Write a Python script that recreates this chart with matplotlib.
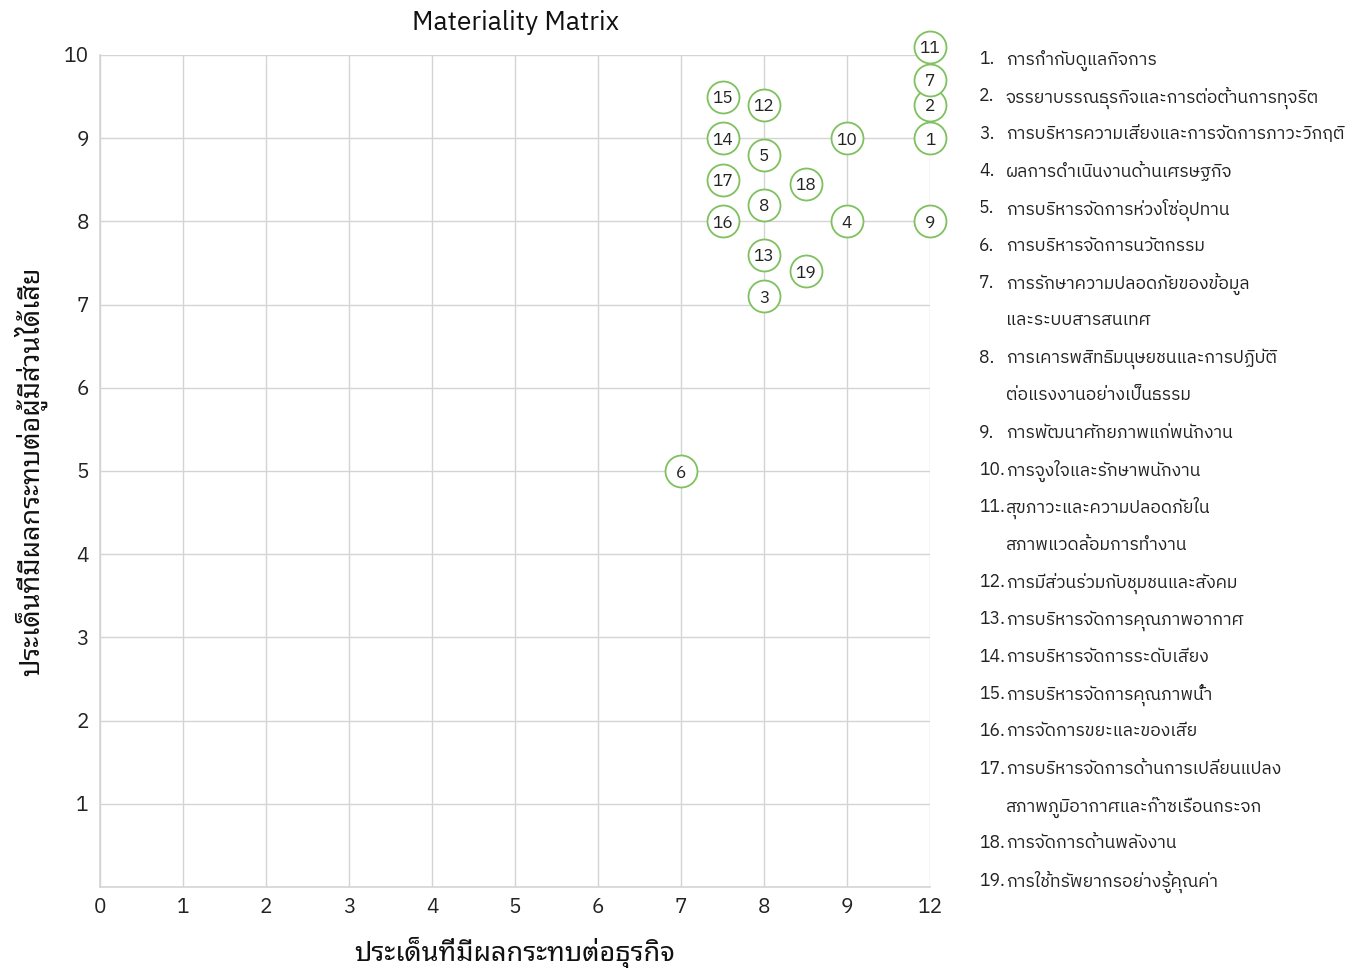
import matplotlib
matplotlib.use('Agg')
import matplotlib.pyplot as plt
import numpy as np

# materiality matrix data
issue_no = list(range(1, 20))
business_impact = [12, 12, 8, 9, 8, 7, 12, 8, 12, 9, 12, 8, 8, 7.5, 7.5, 7.5, 7.5, 8.5, 8.5]
stakeholder_impact = [9.0, 9.4, 7.1, 8.0, 8.8, 5.0, 9.7, 8.2, 8.0, 9.0, 10.1, 9.4, 7.6, 9.0, 9.5, 8.0, 8.5, 8.45, 7.4]

x_ticks = [0, 1, 2, 3, 4, 5, 6, 7, 8, 9, 12]
y_ticks = [1, 2, 3, 4, 5, 6, 7, 8, 9, 10]

issue_names = [
    'การกำกับดูแลกิจการ',
    'จรรยาบรรณธุรกิจและการต่อต้านการทุจริต',
    'การบริหารความเสี่ยงและการจัดการภาวะวิกฤติ',
    'ผลการดำเนินงานด้านเศรษฐกิจ',
    'การบริหารจัดการห่วงโซ่อุปทาน',
    'การบริหารจัดการนวัตกรรม',
    'การรักษาความปลอดภัยของข้อมูล\nและระบบสารสนเทศ',
    'การเคารพสิทธิมนุษยชนและการปฏิบัติ\nต่อแรงงานอย่างเป็นธรรม',
    'การพัฒนาศักยภาพแก่พนักงาน',
    'การจูงใจและรักษาพนักงาน',
    'สุขภาวะและความปลอดภัยใน\nสภาพแวดล้อมการทำงาน',
    'การมีส่วนร่วมกับชุมชนและสังคม',
    'การบริหารจัดการคุณภาพอากาศ',
    'การบริหารจัดการระดับเสียง',
    'การบริหารจัดการคุณภาพน้ำ',
    'การจัดการขยะและของเสีย',
    'การบริหารจัดการด้านการเปลี่ยนแปลง\nสภาพภูมิอากาศและก๊าซเรือนกระจก',
    'การจัดการด้านพลังงาน',
    'การใช้ทรัพยากรอย่างรู้คุณค่า',
]

thai = ['IBM Plex Sans Thai', 'DejaVu Sans']
looped = ['Noto Sans Thai Looped', 'DejaVu Sans']
green = '#7fc15e'
grid_c = '#d4d4d4'

fig = plt.figure(figsize=(13.61, 9.68), dpi=100)
ax = fig.add_axes([100 / 1361, 81 / 968, 830 / 1361, 832 / 968])

# x axis is a category-like scale: 0..9 then 12
pos = np.arange(len(x_ticks))
xs = np.interp(business_impact, x_ticks, pos)

ax.scatter(xs, stakeholder_impact, s=530, facecolor='white', edgecolor=green,
           linewidth=1.3, zorder=3, clip_on=False)
for n, x, y in zip(issue_no, xs, stakeholder_impact):
    ax.text(x, y, str(n), ha='center', va='center_baseline', fontsize=12.5,
            family=thai, color='#222222', zorder=4)

ax.set_xlim(0, 10)
ax.set_ylim(0, 10)
ax.set_xticks(pos)
ax.set_xticklabels([str(t) for t in x_ticks])
ax.set_yticks(y_ticks)
ax.set_yticklabels([str(t) for t in y_ticks])
ax.tick_params(length=0, labelsize=15, colors='#222222', pad=8)
for lab in ax.get_xticklabels() + ax.get_yticklabels():
    lab.set_family(thai)
ax.grid(True, color=grid_c, linewidth=1)
ax.set_axisbelow(True)
for s in ['top', 'right']:
    ax.spines[s].set_visible(False)
for s in ['left', 'bottom']:
    ax.spines[s].set_color(grid_c)
    ax.spines[s].set_linewidth(1.2)

ax.set_title('Materiality Matrix', fontsize=19, family=thai, color='#111111', pad=18)
ax.set_xlabel('ประเด็นที่มีผลกระทบต่อธุรกิจ', fontsize=19.5, fontweight='bold',
              family=looped, color='#111111', labelpad=14)
ax.set_ylabel('ประเด็นที่มีผลกระทบต่อผู้มีส่วนได้เสีย', fontsize=19.5, fontweight='bold',
              family=looped, color='#111111', labelpad=12)

# numbered list on the right
line_h = 37.35 / 968
y0 = 1 - 57 / 968
row = 0
for n, name in zip(issue_no, issue_names):
    fig.text(979 / 1361, y0 - row * line_h, f'{n}.', fontsize=12.7, family=thai,
             va='center_baseline', color='#222222')
    for part in name.split('\n'):
        fig.text(1006 / 1361, y0 - row * line_h, part, fontsize=12.7, family=thai,
                 va='center_baseline', color='#222222')
        row += 1

fig.savefig('out.png', dpi=100)
